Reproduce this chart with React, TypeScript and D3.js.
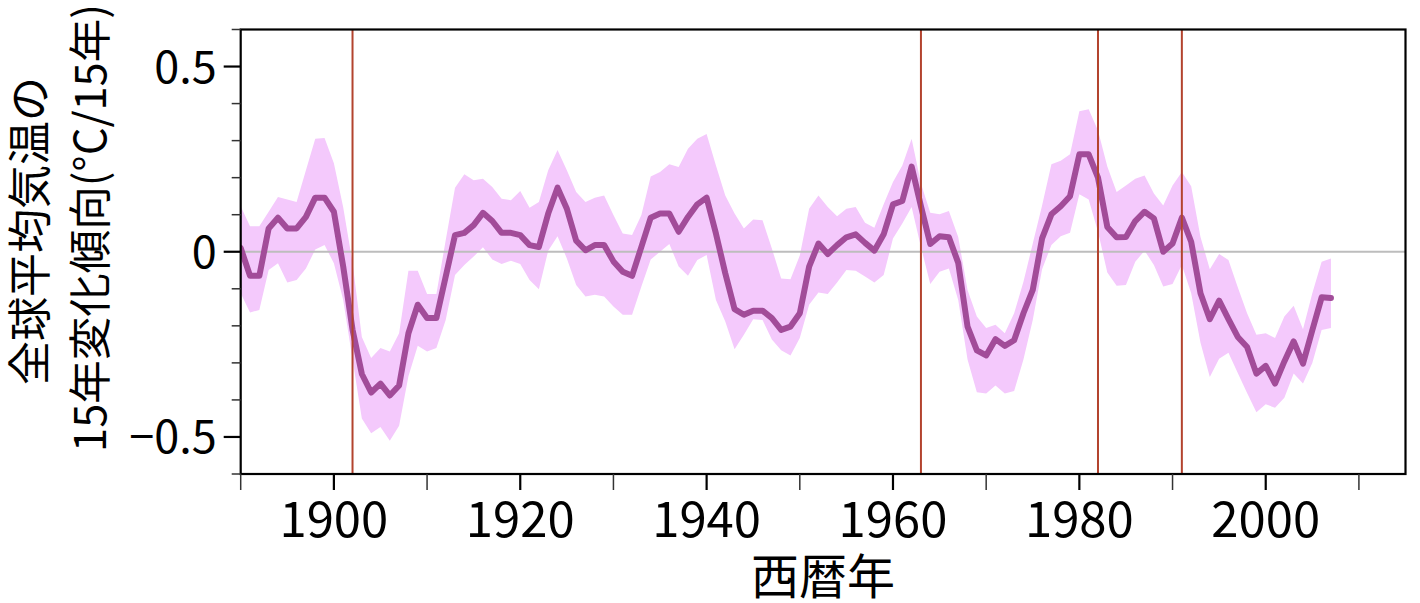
import React from "react";
import * as d3 from "d3";

// ---- data ----
const years: number[] = d3.range(1890, 2008);

const trend: number[] = [
  0.01, -0.065, -0.065, 0.063, 0.092, 0.063, 0.063, 0.094, 0.146, 0.146,
  0.108, -0.04, -0.21, -0.33, -0.38, -0.356, -0.388, -0.361, -0.22, -0.143,
  -0.179, -0.179, -0.067, 0.045, 0.051, 0.072, 0.105, 0.083, 0.051, 0.051,
  0.045, 0.018, 0.013, 0.103, 0.173, 0.116, 0.03, 0.004, 0.018, 0.018,
  -0.026, -0.054, -0.065, 0.013, 0.092, 0.103, 0.103, 0.054, 0.094, 0.128,
  0.146, 0.049, -0.058, -0.155, -0.17, -0.159, -0.159, -0.179, -0.211, -0.202,
  -0.166, -0.04, 0.022, -0.006, 0.018, 0.039, 0.047, 0.024, 0.003, 0.047,
  0.128, 0.137, 0.23, 0.123, 0.021, 0.042, 0.039, -0.03, -0.202, -0.266,
  -0.28, -0.236, -0.254, -0.239, -0.166, -0.103, 0.036, 0.101, 0.123, 0.15,
  0.263, 0.263, 0.2, 0.067, 0.039, 0.04, 0.083, 0.108, 0.09, 0.0,
  0.022, 0.092, 0.027, -0.112, -0.182, -0.132, -0.182, -0.23, -0.257, -0.329,
  -0.308, -0.356, -0.296, -0.242, -0.302, -0.212, -0.123, -0.125,
];

const upper: number[] = [
  0.123, 0.069, 0.069, 0.108, 0.148, 0.141, 0.134, 0.22, 0.305, 0.307,
  0.239, 0.12, -0.03, -0.23, -0.287, -0.26, -0.269, -0.22, -0.051, -0.051,
  -0.114, -0.114, 0.031, 0.173, 0.209, 0.193, 0.197, 0.175, 0.143, 0.139,
  0.164, 0.119, 0.134, 0.22, 0.275, 0.22, 0.161, 0.134, 0.146, 0.152,
  0.099, 0.049, 0.045, 0.099, 0.203, 0.215, 0.236, 0.229, 0.278, 0.305,
  0.318, 0.233, 0.152, 0.103, 0.063, 0.087, 0.085, 0.009, -0.072, -0.074,
  -0.01, 0.116, 0.152, 0.121, 0.096, 0.116, 0.121, 0.078, 0.065, 0.128,
  0.188, 0.233, 0.305, 0.184, 0.105, 0.101, 0.11, 0.04, -0.103, -0.175,
  -0.206, -0.197, -0.22, -0.166, -0.081, 0.022, 0.125, 0.236, 0.246, 0.263,
  0.379, 0.385, 0.327, 0.23, 0.161, 0.179, 0.197, 0.206, 0.157, 0.125,
  0.179, 0.215, 0.177, 0.04, -0.047, -0.006, -0.022, -0.096, -0.166, -0.224,
  -0.22, -0.233, -0.175, -0.146, -0.209, -0.112, -0.027, -0.018,
];

const lower: number[] = [
  -0.112, -0.164, -0.157, -0.049, -0.031, -0.083, -0.076, -0.045, 0.006, 0.018,
  -0.031, -0.13, -0.29, -0.45, -0.49, -0.473, -0.51, -0.47, -0.336, -0.254,
  -0.269, -0.26, -0.184, -0.063, -0.036, -0.013, 0.012, -0.021, -0.033, -0.024,
  -0.033, -0.076, -0.101, 0.003, 0.042, -0.018, -0.09, -0.121, -0.116, -0.121,
  -0.148, -0.17, -0.17, -0.094, -0.021, 0.0, 0.021, -0.04, -0.065, -0.022,
  -0.009, -0.13, -0.188, -0.263, -0.224, -0.182, -0.184, -0.237, -0.266, -0.28,
  -0.233, -0.143, -0.11, -0.114, -0.083, -0.049, -0.051, -0.067, -0.083, -0.063,
  0.036, 0.076, 0.121, 0.013, -0.087, -0.054, -0.045, -0.13, -0.291, -0.379,
  -0.383, -0.361, -0.383, -0.376, -0.291, -0.184, -0.047, 0.018, 0.042, 0.051,
  0.155, 0.141, 0.054, -0.056, -0.092, -0.09, -0.027, 0.003, -0.036, -0.094,
  -0.087, -0.036, -0.112, -0.246, -0.338, -0.289, -0.273, -0.327, -0.381, -0.433,
  -0.412, -0.421, -0.394, -0.329, -0.356, -0.3, -0.211, -0.206,
];

const eventYears: number[] = [1902, 1963, 1982, 1991];

const xMajorTicks: number[] = [1900, 1920, 1940, 1960, 1980, 2000];
const xMinorTicks: number[] = [1890, 1910, 1930, 1950, 1970, 1990, 2010];
const yMajorTicks: number[] = [-0.5, 0, 0.5];
const yMajorLabels: string[] = ["\u22120.5", "0", "0.5"];
const yMinorTicks: number[] = [-0.6, -0.4, -0.3, -0.2, -0.1, 0.1, 0.2, 0.3, 0.4, 0.6];

const yTitle1 = "全球平均気温の";
const yTitle2 = "15年変化傾向(°C/15年)";
const xTitle = "西暦年";

// ---- layout ----
const W = 1420;
const H = 603;
const left = 240.7;
const right = 1405.5;
const top = 29.5;
const bottom = 474;
const FONT = "'Noto Sans CJK JP', 'Noto Sans', sans-serif";

export default function App() {
  const x = d3.scaleLinear().domain([1890, 2015]).range([left, right]);
  const y = d3.scaleLinear().domain([-0.6, 0.6]).range([bottom, top]);

  const rows = years.map((yr, i) => ({ yr, v: trend[i], hi: upper[i], lo: lower[i] }));

  const area = d3
    .area<(typeof rows)[number]>()
    .x((d) => x(d.yr))
    .y0((d) => y(d.lo))
    .y1((d) => y(d.hi));
  const line = d3
    .line<(typeof rows)[number]>()
    .x((d) => x(d.yr))
    .y((d) => y(d.v));

  return (
    <svg
      width={W}
      height={H}
      style={{ position: "absolute", left: 0, top: 0, background: "#fff" }}
      fontFamily={FONT}
    >
      <defs>
        <clipPath id="plotclip">
          <rect x={left} y={top} width={right - left} height={bottom - top} />
        </clipPath>
      </defs>
      <g clipPath="url(#plotclip)">
        <path d={area(rows) || ""} fill="#f4c9fc" stroke="none" />
        <line x1={left} x2={right} y1={y(0)} y2={y(0)} stroke="#bdbdbd" strokeWidth={1.8} />
        <path
          d={line(rows) || ""}
          fill="none"
          stroke="#a24c99"
          strokeWidth={6}
          strokeLinejoin="round"
          strokeLinecap="round"
        />
        {eventYears.map((e) => (
          <line key={e} x1={x(e)} x2={x(e)} y1={top} y2={bottom} stroke="#b3432e" strokeWidth={2} />
        ))}
      </g>

      {/* frame */}
      <rect x={left} y={top} width={right - left} height={bottom - top} fill="none" stroke="#000" strokeWidth={2.2} />

      {/* y ticks */}
      {yMajorTicks.map((t, i) => (
        <g key={"ym" + t}>
          <line x1={left - 17} x2={left} y1={y(t)} y2={y(t)} stroke="#000" strokeWidth={2.2} />
          <text x={left - 24} y={y(t)} dy="0.36em" textAnchor="end" fontSize={45} fill="#000">
            {yMajorLabels[i]}
          </text>
        </g>
      ))}
      {yMinorTicks.map((t) => (
        <line key={"yn" + t} x1={left - 9} x2={left} y1={y(t)} y2={y(t)} stroke="#333" strokeWidth={1.5} />
      ))}

      {/* x ticks */}
      {xMajorTicks.map((t) => (
        <g key={"xm" + t}>
          <line x1={x(t)} x2={x(t)} y1={bottom} y2={bottom + 16} stroke="#000" strokeWidth={2.2} />
          <text x={x(t)} y={537} textAnchor="middle" fontSize={49} fill="#000">
            {t}
          </text>
        </g>
      ))}
      {xMinorTicks.map((t) => (
        <line key={"xn" + t} x1={x(t)} x2={x(t)} y1={bottom} y2={bottom + 16} stroke="#333" strokeWidth={1.5} />
      ))}

      {/* titles */}
      <text x={(left + right) / 2} y={594} textAnchor="middle" fontSize={48} fill="#000">
        {xTitle}
      </text>
      <text transform={`translate(46,231) rotate(-90)`} textAnchor="middle" fontSize={44} fill="#000">
        {yTitle1}
      </text>
      <text transform={`translate(106,228) rotate(-90)`} textAnchor="middle" fontSize={43.5} fill="#000">
        {yTitle2}
      </text>
    </svg>
  );
}
